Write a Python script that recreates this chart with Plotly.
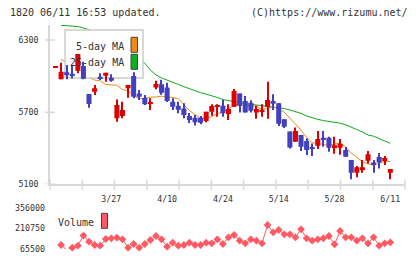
import plotly.graph_objects as go

# ---------------- data ----------------
bar_index = list(range(61))
date_tick_index = [10, 20, 30, 40, 50, 60]
date_tick_labels = ["3/27", "4/10", "4/24", "5/14", "5/28", "6/11"]

open_ = [6068, 5973, 6031, 6020, 6045, 6084, 5851, 5870, 5995, 6003,
         5986, 5649, 5668, 5898, 6000, 5856, 5820, 5770, 5906, 5931,
         5906, 5787, 5754, 5731, 5668, 5654, 5654, 5626, 5704, 5748,
         5754, 5684, 5745, 5856, 5792, 5778, 5698, 5707, 5745, 5792,
         5773, 5640, 5540, 5454, 5510, 5460, 5410, 5421, 5487, 5487,
         5410, 5404, 5385, 5302, 5196, 5219, 5296, 5282, 5327, 5302,
         5196]
high = [6073, 6111, 6092, 6092, 6184, 6120, 5851, 5926, 6023, 6028,
        6015, 5806, 5787, 5926, 6031, 5884, 5843, 5815, 5961, 5970,
        5945, 5815, 5787, 5773, 5693, 5676, 5668, 5704, 5765, 5765,
        5801, 5765, 5892, 5856, 5834, 5798, 5754, 5765, 5953, 5848,
        5773, 5640, 5540, 5573, 5510, 5482, 5440, 5543, 5543, 5496,
        5496, 5476, 5410, 5302, 5252, 5302, 5377, 5302, 5360, 5335,
        5227]
low = [6068, 5973, 5973, 5980, 6023, 5973, 5737, 5843, 5967, 5953,
       5953, 5620, 5649, 5820, 5815, 5801, 5759, 5718, 5890, 5845,
       5784, 5718, 5690, 5649, 5609, 5590, 5600, 5615, 5670, 5662,
       5662, 5634, 5745, 5698, 5698, 5698, 5645, 5662, 5645, 5717,
       5584, 5568, 5398, 5454, 5377, 5343, 5335, 5393, 5412, 5371,
       5354, 5346, 5329, 5141, 5158, 5196, 5274, 5196, 5232, 5260,
       5141]
close = [6073, 6036, 6009, 6005, 6184, 5978, 5768, 5898, 5976, 6028,
         5961, 5759, 5718, 5926, 5828, 5828, 5765, 5776, 5934, 5862,
         5793, 5745, 5720, 5676, 5634, 5615, 5612, 5704, 5751, 5754,
         5690, 5726, 5876, 5754, 5698, 5712, 5726, 5720, 5801, 5770,
         5604, 5579, 5406, 5543, 5412, 5385, 5399, 5476, 5471, 5404,
         5424, 5437, 5329, 5196, 5241, 5241, 5349, 5268, 5282, 5318,
         5227]

ma5 = [None, 6139, 6113, 6090, 6061, 6042, 5989, 5967, 5961, 5930,
       5926, 5924, 5888, 5878, 5838, 5812, 5813, 5825, 5826, 5833,
       5826, 5822, 5811, 5759, 5714, 5678, 5651, 5648, 5663, 5687,
       5702, 5725, 5759, 5760, 5749, 5753, 5753, 5722, 5731, 5746,
       5724, 5700, 5650, 5600, 5550, 5490, 5445, 5443, 5429, 5427,
       5435, 5442, 5413, 5358, 5325, 5289, 5271, 5259, 5276, 5292,
       5289]
ma25 = [None, 6422, 6420, 6418, 6412, 6400, 6388, 6370, 6345, 6320,
        6290, 6260, 6230, 6200, 6170, 6135, 6106, 6050, 6010, 5985,
        5965, 5945, 5930, 5912, 5895, 5875, 5862, 5850, 5838, 5822,
        5805, 5795, 5785, 5775, 5770, 5765, 5760, 5753, 5748, 5742,
        5736, 5730, 5718, 5705, 5690, 5668, 5652, 5640, 5630, 5622,
        5618, 5608, 5595, 5572, 5555, 5535, 5510, 5500, 5478, 5460,
        5441]
volume = [None, 93600, 60000, 74600, 88700, 160000, 116800, 93600, 88700, 135800,
          140700, 145000, 133700, 74600, 100700, 74600, 100700, 128800, 156900, 133700,
          81700, 109800, 88700, 93600, 109800, 93600, 93600, 109800, 105600, 133700,
          100700, 147800, 163900, 123800, 105600, 133700, 123800, 105600, 234200, 182900,
          199100, 168800, 168800, 147800, 204000, 140700, 123800, 133700, 140700, 156900,
          98500, 192000, 147800, 147800, 123800, 140700, 105600, 147800, 88700, 105600,
          112600]

price_ticks = [5100, 5700, 6300]
volume_ticks = [65500, 210750, 356000]
volume_tick_labels = ["65500", "210750", "356000"]

# ---------------- styling ----------------
W, H = 420, 259
L, R = 50, 15
PLOT_W = W - L - R
FONT = "DejaVu Sans Mono"
RED = "#dc0000"
BLUE = "#4040c0"
ORANGE = "#f08a10"
GREEN = "#10a818"
VOLC = "#ff5a64"
AXC = "#d8d8d8"
TXT = "#333333"

def px_x(px):
    return (px - L) / PLOT_W

def px_y(py):
    return 1 - py / H

main_dom = [px_y(184.3), px_y(25)]
vol_dom = [px_y(249), px_y(207.7)]
xr = [-0.99, 62.63]
yr = [5100, 5100 + (6300 - 5100) * (184.3 - 25) / (184.3 - 40)]

up = [c >= o for o, c in zip(open_, close)]
colors = [RED if u else BLUE for u in up]
body_base = [min(o, c) for o, c in zip(open_, close)]
body_h = [max(abs(c - o), 10) for o, c in zip(open_, close)]
wick_h = [h - l for h, l in zip(high, low)]

fig = go.Figure()

# moving averages (base subplot)
fig.add_trace(go.Scatter(x=bar_index, y=ma25, mode="lines",
                         line=dict(color=GREEN, width=1), xaxis="x", yaxis="y",
                         hoverinfo="skip"))
fig.add_trace(go.Scatter(x=bar_index, y=ma5, mode="lines",
                         line=dict(color=ORANGE, width=1), xaxis="x", yaxis="y",
                         hoverinfo="skip"))

# legend box (overlay subplot 2), covers MA lines but not candles
bx0, bx1 = 0.0423, 0.262
by0, by1 = 1 - 53 / 159.3, 1 - 5 / 159.3
fig.add_trace(go.Scatter(x=[bx0, bx1, bx1, bx0, bx0], y=[by0, by0, by1, by1, by0],
                         mode="lines", fill="toself", fillcolor="white",
                         line=dict(color="#cccccc", width=1.5),
                         xaxis="x2", yaxis="y2", hoverinfo="skip"))

# candles (overlay subplot 3)
fig.add_trace(go.Bar(x=bar_index, y=wick_h, base=low, width=0.2,
                     marker=dict(color=colors, line=dict(width=0)),
                     xaxis="x3", yaxis="y3", hoverinfo="skip"))
fig.add_trace(go.Bar(x=bar_index, y=body_h, base=body_base, width=0.9,
                     marker=dict(color=colors, line=dict(width=0)),
                     xaxis="x3", yaxis="y3", hoverinfo="skip"))

# volume
fig.add_trace(go.Scatter(x=bar_index, y=volume, mode="lines+markers",
                         line=dict(color=VOLC, width=1),
                         marker=dict(symbol="diamond", size=6, color=VOLC),
                         cliponaxis=False, xaxis="x4", yaxis="y4",
                         hoverinfo="skip"))

shapes = []
for v in price_ticks:
    shapes.append(dict(type="line", xref="paper", yref="y",
                       x0=px_x(45), x1=px_x(55), y0=v, y1=v,
                       line=dict(color=AXC, width=1.5), layer="above"))
for i in range(12):
    shapes.append(dict(type="line", xref="paper", yref="paper",
                       x0=i / 11, x1=i / 11, y0=px_y(189.5), y1=px_y(179.5),
                       line=dict(color=AXC, width=1.5), layer="above"))
shapes.append(dict(type="rect", xref="paper", yref="paper",
                   x0=px_x(131), x1=px_x(137.5), y0=px_y(52.3), y1=px_y(37.3),
                   fillcolor=ORANGE, line=dict(color="#444444", width=1)))
shapes.append(dict(type="rect", xref="paper", yref="paper",
                   x0=px_x(131), x1=px_x(137.5), y0=px_y(69.3), y1=px_y(54.3),
                   fillcolor="#10b020", line=dict(color="#444444", width=1)))
shapes.append(dict(type="rect", xref="paper", yref="paper",
                   x0=px_x(101.5), x1=px_x(107.5), y0=px_y(228.3), y1=px_y(213.3),
                   fillcolor=VOLC, line=dict(color="#444444", width=1)))

annotations = [
    dict(text="1820 06/11 16:53 updated.", x=px_x(8), y=px_y(12.5),
         xref="paper", yref="paper", xanchor="left", yanchor="middle",
         showarrow=False, font=dict(family=FONT, size=10, color=TXT)),
    dict(text="(C)https://www.rizumu.net/", x=px_x(409.5), y=px_y(12.5),
         xref="paper", yref="paper", xanchor="right", yanchor="middle",
         showarrow=False, font=dict(family=FONT, size=10, color=TXT)),
    dict(text="5-day MA", x=px_x(125.5), y=px_y(46.7),
         xref="paper", yref="paper", xanchor="right", yanchor="middle",
         showarrow=False, font=dict(family=FONT, size=10, color=TXT)),
    dict(text="25-day MA", x=px_x(125.5), y=px_y(62.7),
         xref="paper", yref="paper", xanchor="right", yanchor="middle",
         showarrow=False, font=dict(family=FONT, size=10, color=TXT)),
    dict(text="Volume", x=px_x(95.5), y=px_y(222.5),
         xref="paper", yref="paper", xanchor="right", yanchor="middle",
         showarrow=False, font=dict(family=FONT, size=10, color=TXT)),
]

tickfont = dict(family=FONT, size=8.3, color=TXT)

fig.update_layout(
    width=W, height=H,
    margin=dict(l=L, r=R, t=0, b=0, pad=0, autoexpand=False),
    paper_bgcolor="white", plot_bgcolor="rgba(0,0,0,0)",
    showlegend=False, barmode="overlay",
    shapes=shapes, annotations=annotations,
    xaxis=dict(domain=[0, 1], range=xr, anchor="y", automargin=False,
               showgrid=False, zeroline=False,
               showline=True, linecolor=AXC, linewidth=1.5,
               tickmode="array", tickvals=date_tick_index, ticktext=date_tick_labels,
               ticks="", tickfont=tickfont, ticklabelstandoff=6),
    yaxis=dict(domain=main_dom, range=yr, anchor="x", automargin=False,
               showgrid=False, zeroline=False,
               showline=True, linecolor=AXC, linewidth=1.5,
               tickmode="array", tickvals=price_ticks,
               ticktext=[str(v) for v in price_ticks],
               ticks="", tickfont=tickfont, ticklabelstandoff=8),
    xaxis2=dict(overlaying="x", range=[0, 1], visible=False),
    yaxis2=dict(overlaying="y", range=[0, 1], visible=False),
    xaxis3=dict(overlaying="x", matches="x", visible=False),
    yaxis3=dict(overlaying="y", matches="y", visible=False),
    xaxis4=dict(domain=[0, 1], range=xr, anchor="y4", visible=False),
    yaxis4=dict(domain=vol_dom, range=[65500, 356000], anchor="x4", automargin=False,
                showgrid=False, zeroline=False, showline=False,
                tickmode="array", tickvals=volume_ticks, ticktext=volume_tick_labels,
                ticks="", tickfont=tickfont, ticklabelstandoff=4),
)

fig.write_html("out.html")
